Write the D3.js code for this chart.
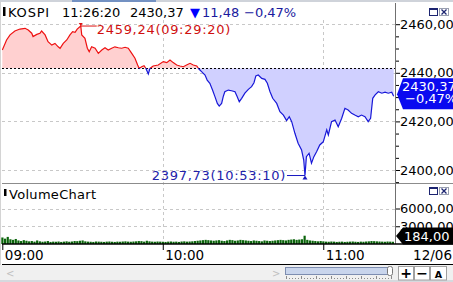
<!DOCTYPE html>
<html>
<head>
<meta charset="utf-8">
<script src="https://cdn.jsdelivr.net/npm/d3@7"></script>
<style>
html, body { margin: 0; padding: 0; background: #fff; overflow: hidden; }
svg { display: block; font-family: "DejaVu Sans", sans-serif; }
</style>
</head>
<body>
<div id="chart"></div>
<script>
// KOSPI intraday (12/06) with volume pane

const symbol = 'KOSPI';
const lastTime = '11:26:20';
const prevClose = 2441.85;
const lastPrice = 2430.37;
const change = '11,48';
const changePct = '\u22120,47%';
const dateLabel = '12/06';

// minutes after 09:00
const times = [0, 1.6, 2.9, 4.7, 6.6, 8.5, 9.7, 11.0, 11.5, 12.9,
	14.1, 14.7, 16.0, 17.1, 18.5, 19.7, 20.9, 21.6, 22.8, 24.1,
	25.3, 26.3, 27.2, 28.0, 29.33, 29.7, 30.9, 31.8, 32.5, 33.4,
	34.7, 35.9, 37.2, 38.4, 39.6, 40.9, 42.1, 43.4, 44.6, 45.9,
	47.1, 48.4, 49.6, 50.6, 51.2, 52.1, 53.0, 53.7, 54.6, 55.2,
	56.4, 58.3, 60.2, 61.5, 62.7, 63.9, 65.2, 66.4, 67.7, 68.9,
	70.2, 71.4, 72.7, 73.6, 74.5, 75.8, 76.6, 77.6, 78.6, 79.5,
	80.4, 81.1, 82.0, 82.6, 83.2, 84.5, 85.7, 87.0, 87.8, 88.6,
	89.5, 90.7, 92.0, 93.2, 94.1, 94.8, 95.7, 97.0, 98.2, 99.1,
	100.1, 101.1, 102.6, 103.8, 105.1, 106.3, 107.3, 108.2, 109.4, 110.6,
	111.9, 112.7, 113.17, 113.7, 114.7, 115.6, 116.5, 117.5, 118.7, 120.0,
	121.3, 121.9, 123.1, 124.4, 125.6, 126.9, 128.1, 129.3, 130.6, 131.8,
	133.1, 134.3, 135.6, 136.8, 137.7, 138.5, 139.4, 140.6, 141.9, 143.1,
	144.3, 145.6, 146.33];

const prices = [2449.4, 2453.5, 2455.6, 2457.2, 2458.0, 2458.3, 2457.6, 2456.3, 2454.9, 2455.8,
	2456.3, 2457.2, 2455.6, 2452.8, 2451.4, 2452.1, 2450.7, 2450.1, 2452.1, 2453.5,
	2455.6, 2456.9, 2456.7, 2458.0, 2459.24, 2455.6, 2454.2, 2450.1, 2448.7, 2450.7,
	2450.1, 2448.0, 2449.4, 2450.3, 2449.4, 2450.1, 2450.7, 2450.3, 2450.1, 2450.5,
	2450.1, 2448.0, 2446.0, 2443.2, 2441.8, 2442.5, 2442.9, 2441.8, 2439.5, 2441.8,
	2442.8, 2443.2, 2444.6, 2444.2, 2445.3, 2444.2, 2443.2, 2442.8, 2442.5, 2443.2,
	2443.9, 2443.2, 2442.8, 2441.45, 2440.5, 2439.1, 2437.0, 2435.7, 2432.9, 2430.2,
	2427.4, 2426.3, 2427.4, 2430.2, 2432.2, 2432.9, 2432.6, 2432.2, 2430.2, 2428.1,
	2429.5, 2431.6, 2433.2, 2434.3, 2435.9, 2438.7, 2439.1, 2437.7, 2437.3, 2435.7,
	2432.2, 2429.5, 2427.4, 2424.0, 2422.6, 2420.3, 2421.9, 2419.9, 2415.1, 2411.0,
	2408.2, 2404.1, 2397.73, 2405.5, 2406.9, 2402.8, 2405.5, 2407.5, 2410.3, 2411.6,
	2416.5, 2414.4, 2419.9, 2420.6, 2417.8, 2421.3, 2425.4, 2424.7, 2423.3, 2422.6,
	2421.9, 2422.6, 2421.9, 2419.9, 2421.3, 2429.5, 2430.9, 2432.2, 2431.6, 2432.0,
	2431.6, 2432.0, 2430.37];

// one value per minute from 09:00
const volumes = [1100, 900, 1200, 800, 700, 850, 600, 500, 650, 550,
	450, 500, 400, 600, 450, 380, 420, 500, 350, 400,
	380, 420, 350, 400, 450, 380, 420, 500, 480, 550,
	600, 450, 400, 380, 350, 420, 400, 380, 350, 400,
	420, 380, 350, 400, 380, 420, 450, 400, 380, 420,
	450, 500, 480, 400, 550, 450, 400, 380, 420, 400,
	380, 350, 400, 420, 380, 400, 350, 420, 450, 400,
	420, 450, 500, 550, 600, 650, 700, 650, 600, 550,
	600, 650, 550, 500, 600, 700, 650, 550, 600, 700,
	650, 600, 550, 500, 600, 550, 500, 450, 600, 550,
	500, 550, 600, 650, 700, 650, 600, 700, 750, 800,
	700, 750, 800, 1400, 700, 600, 550, 500, 450, 500,
	450, 400, 380, 420, 400, 350, 380, 400, 350, 380,
	400, 420, 380, 350, 400, 380, 420, 450, 500, 480,
	450, 420, 400, 380, 420, 400, 380];
const lastVolume = 184;

const maxLabel = '2459,24(09:29:20)';
const minLabel = '2397,73(10:53:10)';
const maxPoint = {t: 29.33, p: 2459.24};
const minPoint = {t: 113.17, p: 2397.73};

const priceTicks = [2400, 2420, 2440, 2460];
const priceMinor = [2395, 2405, 2410, 2415, 2425, 2430, 2435, 2445, 2450, 2455];
const volTicks = [3000, 6000];
const timeTicks = [0, 60, 120];
const timeLabels = ['09:00', '10:00', '11:00'];

const W = 453, H = 282;
const FS = '13px';
const fmt = v => d3.format('.2f')(v).replace('.', ',');

const svg = d3.select('#chart').append('svg')
	.attr('width', W)
	.attr('height', H);

const x = d3.scaleLinear().domain([0, 147.2]).range([2.3, 396]);
const y = d3.scaleLinear().domain([2400, 2460]).range([170, 24.2]);
const yv = d3.scaleLinear().domain([0, 6000]).range([244, 208.5]);

const data = times.map((t, i) => ({t: t, p: prices[i]}));
const refY = y(prevClose);

// top tab strip
svg.append('rect').attr('x', 0).attr('y', 0).attr('width', W).attr('height', 2).attr('fill', '#cfd3da');
svg.append('rect').attr('x', 72).attr('y', 0).attr('width', 84).attr('height', 2).attr('fill', '#7391c2');
svg.append('line').attr('x1', 0.5).attr('x2', 0.5).attr('y1', 2).attr('y2', H).attr('stroke', '#d4d4d4');

const defs = svg.append('defs');
defs.append('clipPath').attr('id', 'above').append('rect')
	.attr('x', 2).attr('y', 3).attr('width', 394).attr('height', refY - 3);
defs.append('clipPath').attr('id', 'below').append('rect')
	.attr('x', 2).attr('y', refY).attr('width', 394).attr('height', 183 - refY);

// grid
const grid = svg.append('g')
	.attr('stroke', '#c8c8c8')
	.attr('stroke-dasharray', '3,3')
	.attr('shape-rendering', 'crispEdges');
grid.selectAll('.hp').data(priceTicks).enter().append('line')
	.attr('x1', 2).attr('x2', 396)
	.attr('y1', d => Math.round(y(d)) + 0.5).attr('y2', d => Math.round(y(d)) + 0.5);
grid.selectAll('.hv').data(volTicks).enter().append('line')
	.attr('x1', 2).attr('x2', 396)
	.attr('y1', d => Math.round(yv(d)) + 0.5).attr('y2', d => Math.round(yv(d)) + 0.5);
grid.selectAll('.vt').data(timeTicks.slice(1)).enter().append('line')
	.attr('x1', d => Math.round(x(d)) + 0.5).attr('x2', d => Math.round(x(d)) + 0.5)
	.attr('y1', 20).attr('y2', 243);

// price area & line, split at previous close
const area = d3.area().x(d => x(d.t)).y0(refY).y1(d => y(d.p));
const line = d3.line().x(d => x(d.t)).y(d => y(d.p));

svg.append('path').datum(data).attr('d', area)
	.attr('fill', '#ffd0d0').attr('clip-path', 'url(#above)');
svg.append('path').datum(data).attr('d', area)
	.attr('fill', '#d0d0ff').attr('clip-path', 'url(#below)');

svg.append('line')
	.attr('x1', 2).attr('x2', 396)
	.attr('y1', Math.round(refY) + 0.5).attr('y2', Math.round(refY) + 0.5)
	.attr('stroke', '#000').attr('stroke-dasharray', '2,2')
	.attr('shape-rendering', 'crispEdges');

svg.append('path').datum(data).attr('d', line)
	.attr('fill', 'none').attr('stroke', '#ee1111').attr('stroke-width', 1.2)
	.attr('clip-path', 'url(#above)');
svg.append('path').datum(data).attr('d', line)
	.attr('fill', 'none').attr('stroke', '#1818d8').attr('stroke-width', 1.2)
	.attr('clip-path', 'url(#below)');

// high / low markers
const mx = x(maxPoint.t), my = y(maxPoint.p);
svg.append('path').attr('d', `M${mx - 2},${my - 3}L${mx + 2},${my - 3}L${mx},${my}Z`).attr('fill', '#dd1111');
svg.append('line').attr('x1', mx).attr('x2', mx + 16).attr('y1', my).attr('y2', my)
	.attr('stroke', '#dd1111');
svg.append('text').attr('x', mx + 16).attr('y', my + 7.5)
	.attr('font-size', FS).attr('letter-spacing', '0.7px').attr('fill', '#d01010')
	.text(maxLabel);

const nx = x(minPoint.t), ny = y(minPoint.p);
svg.append('path').attr('d', `M${nx - 2.5},${ny + 4}L${nx + 2.5},${ny + 4}L${nx},${ny}Z`).attr('fill', '#1818c0');
svg.append('line').attr('x1', nx - 18).attr('x2', nx).attr('y1', ny).attr('y2', ny)
	.attr('stroke', '#1818c0');
svg.append('text').attr('x', nx - 19).attr('y', ny + 4.5)
	.attr('text-anchor', 'end')
	.attr('font-size', FS).attr('letter-spacing', '0.7px').attr('fill', '#2222aa')
	.text(minLabel);

// volume bars
svg.append('g').selectAll('rect')
	.data(volumes)
	.enter()
	.append('rect')
	.attr('x', (d, i) => x(i) - 1)
	.attr('y', d => yv(d))
	.attr('width', 2.2)
	.attr('height', d => yv(0) - yv(d))
	.attr('fill', '#0b640b');

// pane separators and right axis line
svg.append('line').attr('x1', 2).attr('x2', W).attr('y1', 183.5).attr('y2', 183.5).attr('stroke', '#8c8c8c');
svg.append('line').attr('x1', 395.5).attr('x2', 395.5).attr('y1', 3).attr('y2', 244).attr('stroke', '#707070');

// price axis
const axisFont = g => g.selectAll('text')
	.attr('font-family', '"DejaVu Sans", sans-serif')
	.attr('font-size', FS)
	.attr('fill', '#000');

svg.append('g')
	.attr('transform', 'translate(396,0)')
	.call(d3.axisRight(y).tickValues(priceMinor).tickSize(3).tickFormat(''))
	.call(g => g.select('.domain').remove());
svg.append('g')
	.attr('transform', 'translate(396,0)')
	.call(d3.axisRight(y).tickValues(priceTicks).tickSize(4).tickPadding(0).tickFormat(fmt))
	.call(g => g.select('.domain').remove())
	.call(axisFont);

// volume axis
svg.append('g')
	.attr('transform', 'translate(396,0)')
	.call(d3.axisRight(yv).tickValues(volTicks).tickSize(4).tickPadding(0).tickFormat(fmt))
	.call(g => g.select('.domain').remove())
	.call(axisFont);

// current price badge
const py = y(lastPrice) - 2;
svg.append('path')
	.attr('d', `M397,${py}L403,${py - 16}L${W},${py - 16}L${W},${py + 15}L403,${py + 15}Z`)
	.attr('fill', '#0a0af0');
svg.append('text').attr('x', 402).attr('y', py - 3)
	.attr('font-size', FS).attr('fill', '#fff').text(fmt(lastPrice));
svg.append('text').attr('x', 405).attr('y', py + 9)
	.attr('font-size', FS).attr('fill', '#fff').text(changePct);

// volume badge
const vy = 236;
svg.append('path')
	.attr('d', `M396,${vy}L403,${vy - 8.5}L${W},${vy - 8.5}L${W},${vy + 8.5}L403,${vy + 8.5}Z`)
	.attr('fill', '#000');
svg.append('text').attr('x', 404).attr('y', vy + 5)
	.attr('font-size', FS).attr('fill', '#fff').text(fmt(lastVolume));

// time axis
svg.append('g')
	.attr('transform', 'translate(0,244)')
	.call(d3.axisBottom(x).tickValues(timeTicks).tickSize(6).tickPadding(0)
		.tickFormat((d, i) => timeLabels[i]))
	.call(g => g.select('.domain').remove())
	.call(g => g.selectAll('line').attr('stroke', '#000'))
	.call(g => g.selectAll('text').attr('text-anchor', 'start').attr('dx', 2).attr('font-size', '13.5px')
		.attr('font-family', '"DejaVu Sans", sans-serif').attr('fill', '#000'));
svg.append('line').attr('x1', 2).attr('x2', W).attr('y1', 244).attr('y2', 244)
	.attr('stroke', '#000').attr('stroke-width', 1.6);
svg.append('text').attr('x', 452).attr('y', 259.5).attr('text-anchor', 'end')
	.attr('font-size', '13.5px').text(dateLabel);

// scroll bar strip
svg.append('rect').attr('x', 0).attr('y', 265).attr('width', W).attr('height', 17).attr('fill', '#f0f0f0');
svg.append('line').attr('x1', 2).attr('x2', W).attr('y1', 264.5).attr('y2', 264.5).attr('stroke', '#000');
svg.append('rect').attr('x', 0).attr('y', 280).attr('width', W).attr('height', 2).attr('fill', '#d6d9de');
svg.append('text').attr('x', 6).attr('y', 277).attr('font-size', '10px').attr('fill', '#c0c0c0').text('<');
svg.append('text').attr('x', 272).attr('y', 277).attr('font-size', '10px').attr('fill', '#c0c0c0').text('>');
svg.append('rect').attr('x', 285.5).attr('y', 267.5).attr('width', 104).attr('height', 7)
	.attr('fill', '#c9d5ec').attr('stroke', '#7d8db0');
svg.append('rect').attr('x', 387.5).attr('y', 266.5).attr('width', 5).attr('height', 9).attr('rx', 2)
	.attr('fill', '#fff').attr('stroke', '#777');
const ruler = svg.append('g').attr('stroke', '#8a8a8a').attr('shape-rendering', 'crispEdges');
for (let rx = 286; rx < 392; rx += 3) {
	ruler.append('line').attr('x1', rx + 0.5).attr('x2', rx + 0.5)
		.attr('y1', (rx - 286) % 15 === 0 ? 276 : 277.5).attr('y2', 279);
}
const buttons = [{x: 398, w: 15, t: '+'}, {x: 414, w: 15, t: '\u2212'}, {x: 430, w: 16, t: 'A'}];
const btn = svg.append('g').selectAll('g').data(buttons).enter().append('g');
btn.append('rect').attr('x', d => d.x + 0.5).attr('y', 266.5).attr('width', d => d.w).attr('height', 13.5)
	.attr('fill', '#fff').attr('stroke', '#a0a0a0');
btn.append('text').attr('x', d => d.x + d.w / 2 + 0.5).attr('y', 278)
	.attr('text-anchor', 'middle')
	.attr('font-size', d => d.t === 'A' ? '9.5px' : '14px')
	.attr('font-weight', 'bold').text(d => d.t);

// titles
svg.append('rect').attr('x', 3).attr('y', 7).attr('width', 2.5).attr('height', 9).attr('fill', '#000');
const title = svg.append('g').attr('font-size', FS);
title.append('text').attr('x', 8).attr('y', 16.5).attr('letter-spacing', '0.8px').text(symbol);
title.append('text').attr('x', 62).attr('y', 16.5).text(lastTime);
title.append('text').attr('x', 130).attr('y', 16.5).text(fmt(lastPrice));
title.append('text').attr('x', 190).attr('y', 16.5).attr('fill', '#0000ff').text('\u25BC');
title.append('text').attr('x', 202).attr('y', 16.5).attr('fill', '#1a1a9e').text(change);
title.append('text').attr('x', 244).attr('y', 16.5).attr('fill', '#1a1a9e').text(changePct);

svg.append('rect').attr('x', 4).attr('y', 189).attr('width', 2.5).attr('height', 7).attr('fill', '#000');
svg.append('text').attr('x', 9).attr('y', 198.5).attr('font-size', FS).attr('letter-spacing', '0.3px').text('VolumeChart');

// window icons
[8, 187].forEach(ty => {
	const ic = svg.append('g').attr('fill', 'none').attr('stroke', '#1c2470').attr('shape-rendering', 'crispEdges');
	ic.append('rect').attr('x', 429.5).attr('y', ty + 0.5).attr('width', 8).attr('height', 7);
	ic.append('line').attr('x1', 429.5).attr('x2', 437.5).attr('y1', ty + 1.5).attr('y2', ty + 1.5);
	ic.append('rect').attr('x', 439.5).attr('y', ty + 0.5).attr('width', 9).attr('height', 7).attr('stroke', '#9aa0b0');
	ic.append('path').attr('d', `M441.5,${ty + 1.5}L446.5,${ty + 6.5}M446.5,${ty + 1.5}L441.5,${ty + 6.5}`)
		.attr('shape-rendering', 'auto').attr('stroke-width', 1.3);
});
</script>
</body>
</html>
